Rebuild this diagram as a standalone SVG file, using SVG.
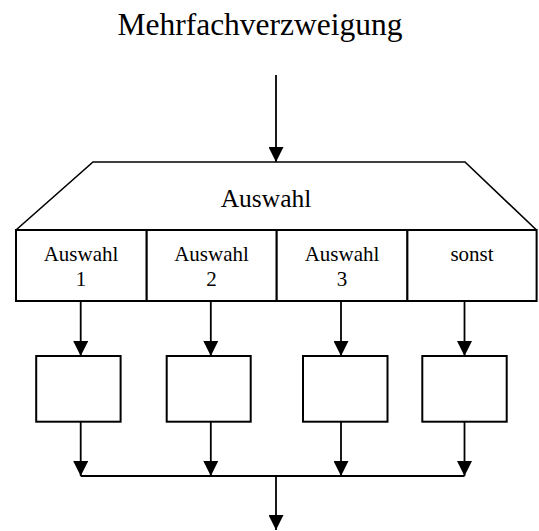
<svg xmlns="http://www.w3.org/2000/svg" width="539" height="531" viewBox="0 0 539 531">
<style>
text{fill:#000;text-anchor:middle}
.box{fill:#fff;stroke:#000;stroke-width:2}
.ln{fill:none;stroke:#000;stroke-width:1.8}
.ar{fill:none;stroke:#000;stroke-width:1.8;marker-end:url(#ah)}
</style>
<defs>
<marker id="ah" markerUnits="userSpaceOnUse" markerWidth="15" markerHeight="15" viewBox="0 0 15 15" refX="15" refY="7.5" orient="auto">
<path d="M0,0 L15,7.5 L0,15 Z" fill="#000"/>
</marker>
</defs>
<rect width="539" height="531" fill="#fff"/>
<g font-family="'Liberation Serif', 'DejaVu Serif', serif">
<text font-size="31.5" x="260" y="35">Mehrfachverzweigung</text>
<g id="auswahl">
<path d="M16,230 L93,162 L465,162 L536.5,230" fill="#fff" stroke="#000" stroke-width="1.6"/>
<text font-size="25.5" x="266" y="207">Auswahl</text>
</g>
<g id="fall1" font-size="21">
<rect class="box" x="16" y="230" width="130.7" height="71"/>
<text x="81" y="261">Auswahl</text>
<text x="81" y="286">1</text>
</g>
<g id="fall2" font-size="21">
<rect class="box" x="146.7" y="230" width="130" height="71"/>
<text x="211.5" y="261">Auswahl</text>
<text x="211.5" y="286">2</text>
</g>
<g id="fall3" font-size="21">
<rect class="box" x="276.7" y="230" width="130.7" height="71"/>
<text x="342" y="261">Auswahl</text>
<text x="342" y="286">3</text>
</g>
<g id="sonst" font-size="21">
<rect class="box" x="407.4" y="230" width="129.2" height="71"/>
<text x="472" y="261">sonst</text>
</g>
</g>
<g id="block1"><rect class="box" x="36.2" y="356" width="84.4" height="65.7"/></g>
<g id="block2"><rect class="box" x="166.7" y="356" width="84" height="65.7"/></g>
<g id="block3"><rect class="box" x="303" y="356" width="84.5" height="65.7"/></g>
<g id="block4"><rect class="box" x="422.3" y="356" width="84.4" height="65.7"/></g>
<g id="connectors">
<line class="ar" x1="276" y1="75" x2="276" y2="162"/>
<line class="ar" x1="80.7" y1="301" x2="80.7" y2="356"/>
<line class="ar" x1="210.8" y1="301" x2="210.8" y2="356"/>
<line class="ar" x1="341" y1="301" x2="341" y2="356"/>
<line class="ar" x1="464.5" y1="301" x2="464.5" y2="356"/>
<line class="ar" x1="80.7" y1="421.7" x2="80.7" y2="476"/>
<line class="ar" x1="210.8" y1="421.7" x2="210.8" y2="476"/>
<line class="ar" x1="341" y1="421.7" x2="341" y2="476"/>
<line class="ar" x1="464.5" y1="421.7" x2="464.5" y2="476"/>
<line class="ln" x1="80.7" y1="476" x2="464.5" y2="476"/>
<line class="ar" x1="276" y1="476" x2="276" y2="530"/>
</g>
</svg>
